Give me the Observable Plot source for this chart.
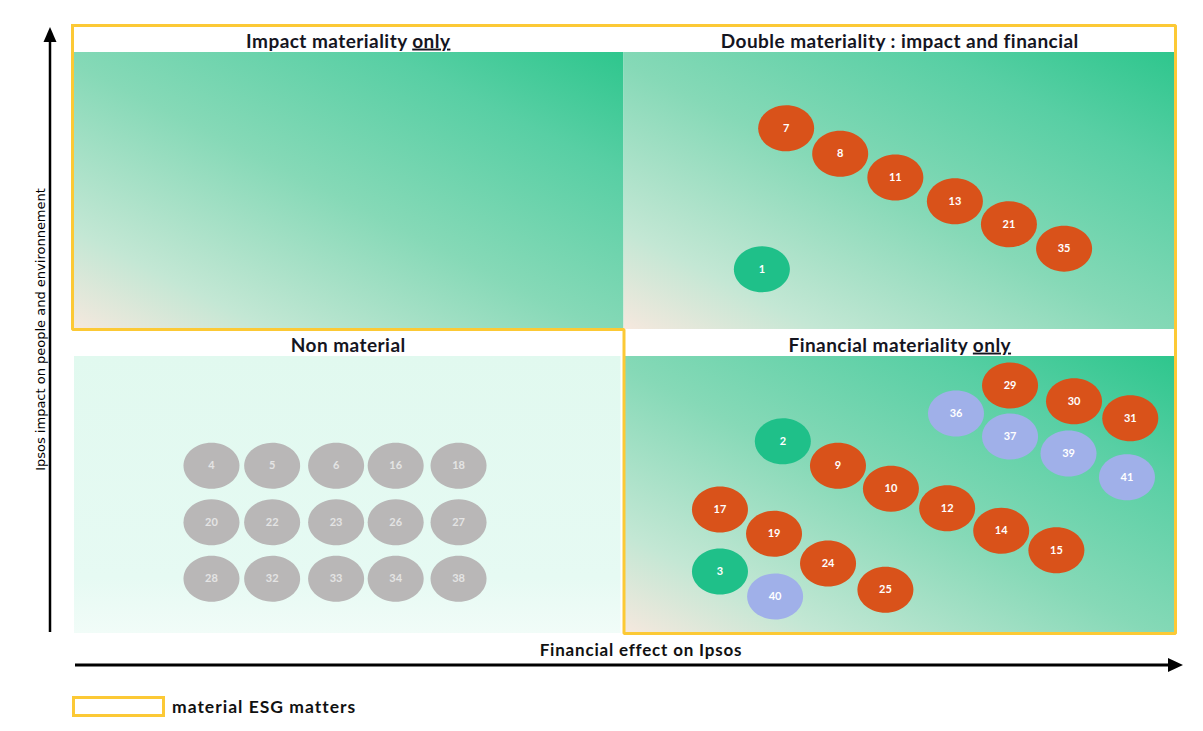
<!DOCTYPE html>
<html>
<head>
<meta charset="utf-8">
<script src="https://cdn.jsdelivr.net/npm/d3@7"></script>
<script src="https://cdn.jsdelivr.net/npm/@observablehq/plot@0.6"></script>
<style>
  body { margin: 0; background: #fff; font-family: Lato, "Open Sans", sans-serif; }
  #chart svg { display: block; overflow: visible; }
  .legend { display: flex; align-items: center; margin: 11px 0 0 72px; }
  .legend .swatch { width: 93px; height: 21px; box-sizing: border-box; border: 3px solid #fcc935; background: #fff; }
  .legend .label { margin-left: 7px; font: 700 17.5px Lato, sans-serif; letter-spacing: 1px; color: #111; }
</style>
</head>
<body>
<div id="chart"></div>
<div class="legend"><div class="swatch"></div><div class="label">material ESG matters</div></div>
<script>
// Quadrants of the double-materiality matrix (financial effect on x, impact on y, 0–100)
const quadrantNames = [
  "Impact materiality only",
  "Double materiality : impact and financial",
  "Non material",
  "Financial materiality only"
];
const quadrantX1 = [0, 50, 0, 50];
const quadrantX2 = [50, 100, 50, 100];
const quadrantY1 = [50, 50, 0, 0];
const quadrantY2 = [100, 100, 50, 50];
const quadrantMaterial = [true, true, false, true];

// Outline around the material quadrants
const outlineX = [0, 100, 100, 50, 50, 0, 0];
const outlineY = [100, 100, 0, 0, 50, 50, 100];

// ESG matters: id, financial effect, impact, pillar
const matterIds = [
  7, 8, 11, 13, 21, 35, 1,
  29, 30, 31, 36, 37, 39, 41, 2, 9, 10, 12, 14, 15, 17, 19, 24, 25, 3, 40,
  4, 5, 6, 16, 18, 20, 22, 23, 26, 27, 28, 32, 33, 34, 38
];
const matterFinancial = [
  64.7, 69.6, 74.6, 80.0, 84.9, 89.9, 62.5,
  85.0, 90.8, 95.9, 80.1, 85.0, 90.3, 95.6, 64.4, 69.4, 74.2, 79.3, 84.2, 89.2, 58.7, 63.6, 68.5, 73.7, 58.7, 63.7,
  12.6, 18.1, 23.9, 29.3, 35.0, 12.6, 18.1, 23.9, 29.3, 35.0, 12.6, 18.1, 23.9, 29.3, 35.0
];
const matterImpact = [
  83.1, 78.9, 75.0, 71.1, 67.3, 63.3, 59.9,
  40.8, 38.2, 35.4, 36.2, 32.4, 29.6, 25.7, 31.6, 27.6, 23.8, 20.6, 16.9, 13.7, 20.4, 16.4, 11.5, 7.2, 10.2, 6.1,
  27.6, 27.6, 27.6, 27.6, 27.6, 18.3, 18.3, 18.3, 18.3, 18.3, 9.0, 9.0, 9.0, 9.0, 9.0
];
const matterPillar = [
  "Social", "Social", "Social", "Social", "Social", "Social", "Environment",
  "Social", "Social", "Social", "Governance", "Governance", "Governance", "Governance", "Environment",
  "Social", "Social", "Social", "Social", "Social", "Social", "Social", "Social", "Social", "Environment", "Governance",
  "Not material", "Not material", "Not material", "Not material", "Not material",
  "Not material", "Not material", "Not material", "Not material", "Not material",
  "Not material", "Not material", "Not material", "Not material", "Not material"
];

const pillars = ["Environment", "Social", "Governance", "Not material"];
const pillarColors = ["#1fc089", "#d9521a", "#a0b0e9", "#b9b7b7"];

const axisLabelX = "Financial effect on Ipsos";
const axisLabelY = "Ipsos impact on people and environnement";

const quadrants = quadrantNames.map((name, i) => ({
  name, x1: quadrantX1[i], x2: quadrantX2[i], y1: quadrantY1[i], y2: quadrantY2[i], material: quadrantMaterial[i]
}));
const outline = outlineX.map((x, i) => ({x, y: outlineY[i]}));
const matters = matterIds.map((id, i) => ({
  id, financial: matterFinancial[i], impact: matterImpact[i], pillar: matterPillar[i]
}));

// Ellipse-shaped symbol for the matter bubbles
const ellipse = {
  draw(ctx, size) {
    const r = Math.sqrt(size / Math.PI);
    const rx = r * 1.12, ry = r * 0.92, k = 0.5523;
    ctx.moveTo(rx, 0);
    ctx.bezierCurveTo(rx, ry * k, rx * k, ry, 0, ry);
    ctx.bezierCurveTo(-rx * k, ry, -rx, ry * k, -rx, 0);
    ctx.bezierCurveTo(-rx, -ry * k, -rx * k, -ry, 0, -ry);
    ctx.bezierCurveTo(rx * k, -ry, rx, -ry * k, rx, 0);
    ctx.closePath();
  }
};

const width = 1203, height = 685;
const marginTop = 25, marginRight = 28, marginBottom = 52, marginLeft = 72;

const chart = Plot.plot({
  width, height, marginTop, marginRight, marginBottom, marginLeft,
  style: {fontFamily: "Lato, sans-serif", background: "white", overflow: "visible"},
  x: {domain: [0, 100], axis: null},
  y: {domain: [0, 100], axis: null},
  color: {domain: pillars, range: pillarColors},
  marks: [
    // quadrant panels: white header band over a shaded body
    Plot.rect(quadrants, {x1: "x1", x2: "x2", y1: "y1", y2: "y2", fill: "white"}),
    Plot.rect(quadrants, {filter: d => d.material, x1: "x1", x2: "x2", y1: "y1", y2: "y2",
      insetTop: 27, fill: "url(#material-fill)"}),
    Plot.rect(quadrants, {filter: d => !d.material, x1: "x1", x2: "x2", y1: "y1", y2: "y2",
      insetTop: 27, insetLeft: 2, insetRight: 3, fill: "url(#non-material-fill)"}),
    Plot.text(quadrants, {x: d => (d.x1 + d.x2) / 2, y: "y2", text: "name", dy: 16,
      fontSize: 19, fontWeight: "bold", fill: "#15151f"}),
    Plot.line(outline, {x: "x", y: "y", stroke: "#fcc935", strokeWidth: 3, strokeLinejoin: "miter", strokeLinecap: "square"}),
    // matters
    Plot.dot(matters, {x: "financial", y: "impact", r: 25, symbol: ellipse, fill: "pillar"}),
    Plot.text(matters, {filter: d => d.pillar !== "Not material", x: "financial", y: "impact", text: "id",
      fill: "white", fontSize: 11, fontWeight: "bold"}),
    Plot.text(matters, {filter: d => d.pillar === "Not material", x: "financial", y: "impact", text: "id",
      fill: "#e4e4e4", fontSize: 11, fontWeight: "bold"}),
    // axis titles
    Plot.text([axisLabelX], {frameAnchor: "bottom", dx: 17, dy: 22, fontSize: 17, fontWeight: "bold", fill: "#111"}),
    Plot.text([axisLabelY], {frameAnchor: "left", textAnchor: "middle", rotate: -90, dx: -32, fontSize: 13,
      fontFamily: "DejaVu Sans, sans-serif", fill: "#000"})
  ]
});

const svg = d3.select(chart);

// gradients for the quadrant bodies
const defs = svg.insert("defs", ":first-child");
const mat = defs.append("linearGradient").attr("id", "material-fill")
  .attr("x1", 0).attr("y1", 1).attr("x2", 1).attr("y2", 0);
[[0, "#f6e8de"], [0.18, "#c3e7d4"], [0.48, "#86d9b7"], [0.78, "#58cfa4"], [1, "#2ec68d"]]
  .forEach(([o, c]) => mat.append("stop").attr("offset", o).attr("stop-color", c));
const non = defs.append("linearGradient").attr("id", "non-material-fill")
  .attr("x1", 0).attr("y1", 0).attr("x2", 0).attr("y2", 1);
[[0, "#e1f9ef"], [0.8, "#e6faf3"], [1, "#f1fcf8"]]
  .forEach(([o, c]) => non.append("stop").attr("offset", o).attr("stop-color", c));

// letter spacing for the quadrant and axis titles
svg.selectAll("text")
  .filter(function () { return quadrantNames.includes(this.textContent); })
  .attr("letter-spacing", "0.45px");
svg.selectAll("text")
  .filter(function () { return this.textContent === axisLabelX; })
  .attr("letter-spacing", "0.8px");

// underline the word "only" in quadrant titles
svg.selectAll("text").each(function () {
  const t = this.textContent;
  if (t.endsWith(" only")) {
    const sel = d3.select(this);
    sel.text(null);
    sel.append("tspan").text(t.slice(0, -4));
    sel.append("tspan").attr("text-decoration", "underline").text("only");
  }
});

// axis arrows along the left and bottom edges of the matrix
const plotBottom = height - marginBottom, plotRight = width - marginRight;
const axes = svg.append("g").attr("fill", "#000").attr("stroke", "#000");
const yAxisX = marginLeft - 22;
axes.append("line").attr("x1", yAxisX).attr("x2", yAxisX)
  .attr("y1", plotBottom - 1).attr("y2", marginTop + 14).attr("stroke-width", 2.5);
axes.append("path").attr("stroke", "none")
  .attr("d", `M${yAxisX},${marginTop + 2} l-6.5,15 h13 z`);
const xAxisY = plotBottom + 32;
axes.append("line").attr("x1", marginLeft + 3).attr("x2", plotRight - 4)
  .attr("y1", xAxisY).attr("y2", xAxisY).attr("stroke-width", 3);
axes.append("path").attr("stroke", "none")
  .attr("d", `M${plotRight + 8},${xAxisY} l-15,-7 v14 z`);

document.getElementById("chart").append(chart);
</script>
</body>
</html>
